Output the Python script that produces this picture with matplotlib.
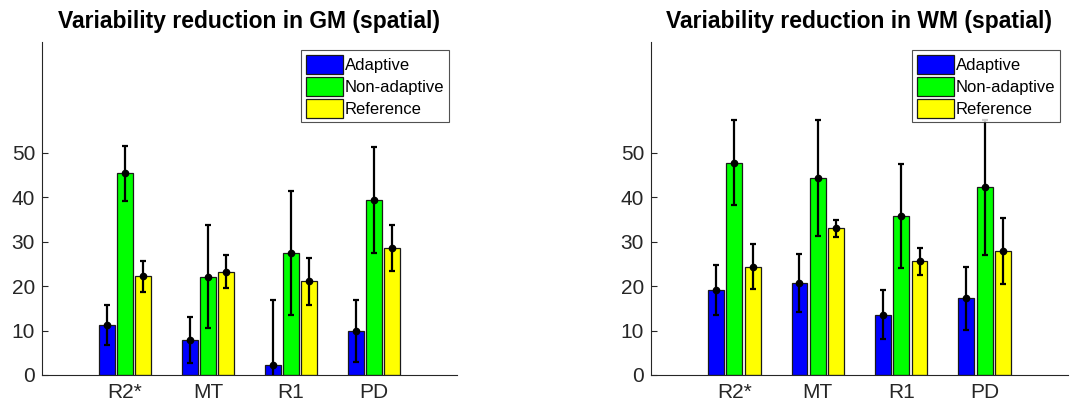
import matplotlib
matplotlib.use("Agg")
import matplotlib.pyplot as plt
import numpy as np

plt.rcParams['font.family'] = ['Liberation Sans', 'DejaVu Sans']

categories = ["R2*", "MT", "R1", "PD"]
series_names = ["Adaptive", "Non-adaptive", "Reference"]
series_colors = ["#0000ff", "#00ff00", "#ffff00"]

gm_adaptive = [11.2, 7.8, 2.2, 9.9]
gm_nonadaptive = [45.4, 22.1, 27.5, 39.4]
gm_reference = [22.2, 23.3, 21.1, 28.6]
gm_adaptive_err = [4.5, 5.2, 14.8, 7.0]
gm_nonadaptive_err = [6.2, 11.6, 14.0, 11.9]
gm_reference_err = [3.4, 3.8, 5.3, 5.1]

wm_adaptive = [19.2, 20.7, 13.6, 17.3]
wm_nonadaptive = [47.8, 44.4, 35.8, 42.3]
wm_reference = [24.4, 33.0, 25.6, 27.9]
wm_adaptive_err = [5.6, 6.5, 5.5, 7.1]
wm_nonadaptive_err = [9.6, 13.1, 11.8, 15.2]
wm_reference_err = [5.1, 1.9, 3.0, 7.4]

titles = ["Variability reduction in GM (spatial)", "Variability reduction in WM (spatial)"]

fig = plt.figure(figsize=(10.78, 4.05), dpi=100)
positions = [[42/1078, 30/405, 415/1078, 333/405], [651/1078, 30/405, 417/1078, 333/405]]

panels = [
    ([gm_adaptive, gm_nonadaptive, gm_reference], [gm_adaptive_err, gm_nonadaptive_err, gm_reference_err]),
    ([wm_adaptive, wm_nonadaptive, wm_reference], [wm_adaptive_err, wm_nonadaptive_err, wm_reference_err]),
]

x = np.arange(1, len(categories) + 1)
offsets = [-0.22, 0.0, 0.22]
width = 0.19
axcol = '#262626'

for p, (vals, errs) in enumerate(panels):
    ax = fig.add_axes(positions[p])
    handles = []
    for i in range(3):
        b = ax.bar(x + offsets[i], vals[i], width, color=series_colors[i],
                   edgecolor='#1a1a1a', linewidth=0.9, label=series_names[i], zorder=2)
        handles.append(b)
        ax.errorbar(x + offsets[i], vals[i], yerr=errs[i], fmt='o', color='black',
                    markersize=4.5, elinewidth=1.6, capsize=2.5, capthick=1.6, zorder=3)
    ax.set_xlim(0, 5)
    ax.set_ylim(0, 75)
    ax.set_yticks([0, 10, 20, 30, 40, 50])
    ax.set_xticks(x)
    ax.set_xticklabels(categories)
    ax.tick_params(axis='y', direction='in', length=4, width=0.8, colors=axcol, labelsize=15, pad=5)
    ax.tick_params(axis='x', length=0, colors=axcol, labelsize=15, pad=6)
    ax.spines['top'].set_visible(False)
    ax.spines['right'].set_visible(False)
    for s in ['left', 'bottom']:
        ax.spines[s].set_color(axcol)
        ax.spines[s].set_linewidth(0.8)
    ax.set_title(titles[p], fontsize=16.5, fontweight='bold', pad=10)
    leg = ax.legend(handles=handles, loc='upper right', fontsize=12, frameon=True, fancybox=False,
                    edgecolor='#262626', handlelength=2.2, handleheight=1.35, handletextpad=0.12,
                    labelspacing=0.2, borderpad=0.28, borderaxespad=0.5)
    leg.get_frame().set_linewidth(0.8)
    leg.set_zorder(5)

fig.savefig("out.png", dpi=100)
